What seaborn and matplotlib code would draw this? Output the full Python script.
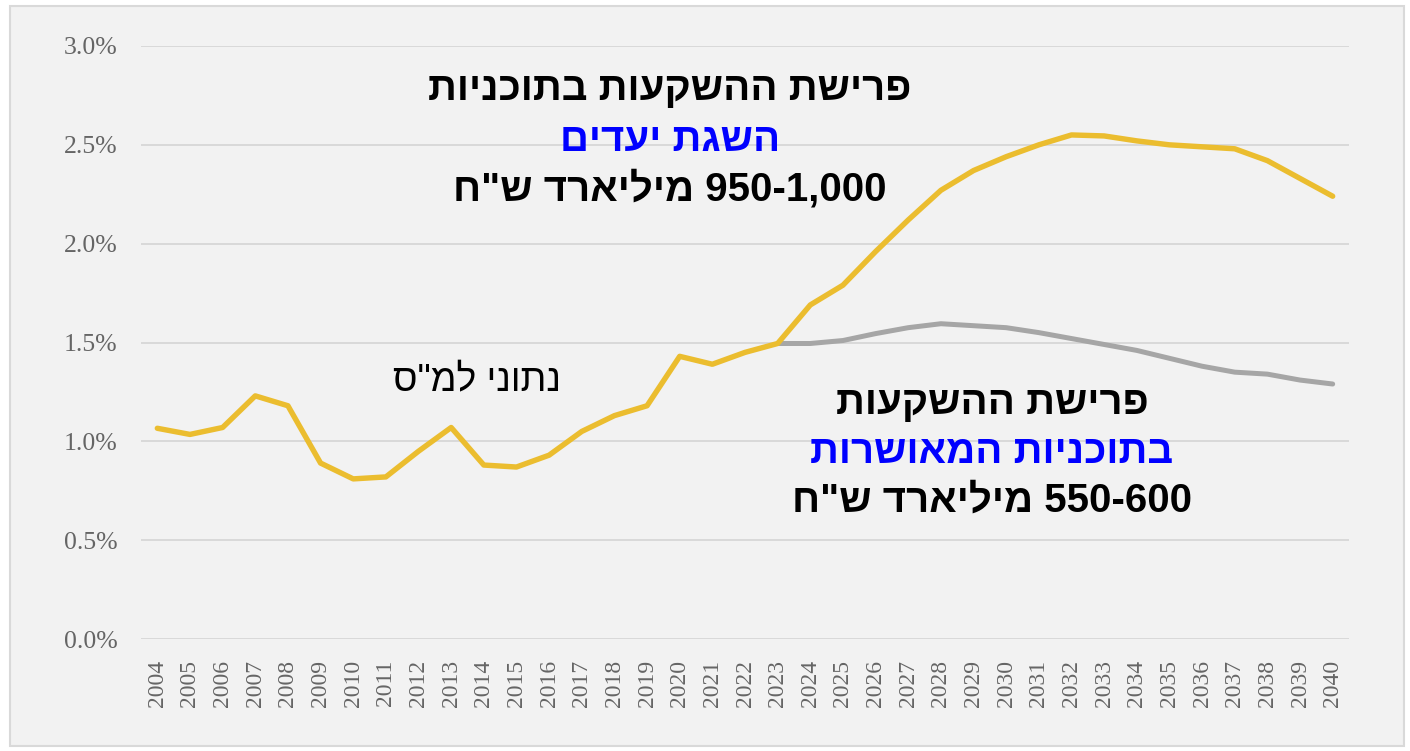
import re
import matplotlib
matplotlib.use("Agg")
import matplotlib.pyplot as plt
import matplotlib.patches as patches
from matplotlib.ticker import PercentFormatter
import pandas as pd
import seaborn as sns

###DATA (SHARE OF GDP)
years = list(range(2004, 2041))
target_plan = [1.066, 1.035, 1.07, 1.23, 1.18, 0.89, 0.81, 0.82, 0.95, 1.07,
               0.88, 0.87, 0.93, 1.05, 1.13, 1.18, 1.43, 1.39, 1.45, 1.495,
               1.69, 1.79, 1.96, 2.12, 2.27, 2.37, 2.44, 2.50, 2.55, 2.545,
               2.52, 2.50, 2.49, 2.48, 2.42, 2.33, 2.24]
approved_years = list(range(2023, 2041))
approved_plan = [1.495, 1.495, 1.51, 1.545, 1.575, 1.595, 1.585, 1.575, 1.55,
                 1.52, 1.49, 1.46, 1.42, 1.38, 1.35, 1.34, 1.31, 1.29]
y_ticks = [0, 0.5, 1.0, 1.5, 2.0, 2.5, 3.0]

label_top = ["פרישת ההשקעות בתוכניות", "השגת יעדים", "950-1,000 מיליארד ש\"ח"]
label_bottom = ["פרישת ההשקעות", "בתוכניות המאושרות", "550-600 מיליארד ש\"ח"]
label_cbs = "נתוני למ\"ס"


def rtl(s):
    # matplotlib has no bidi, so lay hebrew out in visual order
    toks = s.split(' ')
    out = []
    for t in reversed(toks):
        if re.fullmatch(r'[0-9,.\-]+', t):
            out.append(t)
        else:
            out.append(t[::-1])
    return ' '.join(out)


df_target = pd.DataFrame({'year': years, 'value': [v / 100 for v in target_plan]})
df_approved = pd.DataFrame({'year': approved_years, 'value': [v / 100 for v in approved_plan]})

sns.set_style("white")
plt.rcParams['font.family'] = ['Liberation Sans', 'DejaVu Sans']

BG = '#f2f2f2'
fig = plt.figure(figsize=(14.1, 7.51), dpi=100, facecolor='white')
fig.patches.append(patches.Rectangle((10 / 1410, 5 / 751), 1394 / 1410, 740 / 751,
                                     transform=fig.transFigure, facecolor=BG,
                                     edgecolor='#d9d9d9', linewidth=1.5, zorder=-10))
ax = fig.add_axes([141 / 1410, (751 - 639) / 751, 1208 / 1410, 593 / 751])
ax.set_facecolor(BG)

#LINES
sns.lineplot(data=df_approved, x='year', y='value', ax=ax, color='#a6a6a6', linewidth=3.6, zorder=3)
sns.lineplot(data=df_target, x='year', y='value', ax=ax, color='#ebbd2f', linewidth=3.9, zorder=4)

#AXES
ax.set_xlim(2003.5, 2040.5)
ax.set_ylim(0, 0.03)
ax.set_yticks([t / 100 for t in y_ticks])
ax.yaxis.set_major_formatter(PercentFormatter(1.0, decimals=1))
ax.set_xticks(years)
ax.set_xticklabels([str(y) for y in years], rotation=90)
ax.grid(axis='y', color='#d9d9d9', linewidth=1.4)
ax.set_axisbelow(True)
for sp in ax.spines.values():
    sp.set_visible(False)
ax.tick_params(axis='both', length=0)
ax.tick_params(axis='y', pad=17)
ax.tick_params(axis='x', pad=15)
for lab in ax.get_yticklabels():
    lab.set_fontfamily('Liberation Serif')
    lab.set_fontsize(18.5)
    lab.set_color('#656565')
for lab in ax.get_xticklabels():
    lab.set_fontfamily('Liberation Serif')
    lab.set_fontsize(17)
    lab.set_color('#656565')
ax.set_xlabel('')
ax.set_ylabel('')

#ANNOTATIONS
def px(x, y):
    return x / 1410, (751 - y) / 751

colors = ['black', '#0000ff', 'black']
for txt, yy, c in zip(label_top, [89, 140, 189], colors):
    fig.text(*px(670, yy), rtl(txt), ha='center', va='center', fontsize=29,
             fontweight='bold', color=c)
for txt, yy, c in zip(label_bottom, [403, 452, 501], colors):
    fig.text(*px(992, yy), rtl(txt), ha='center', va='center', fontsize=29,
             fontweight='bold', color=c)
fig.text(*px(477, 380), rtl(label_cbs), ha='center', va='center', fontsize=27,
         color='black')

fig.savefig('out.png', dpi=100, facecolor=fig.get_facecolor())
